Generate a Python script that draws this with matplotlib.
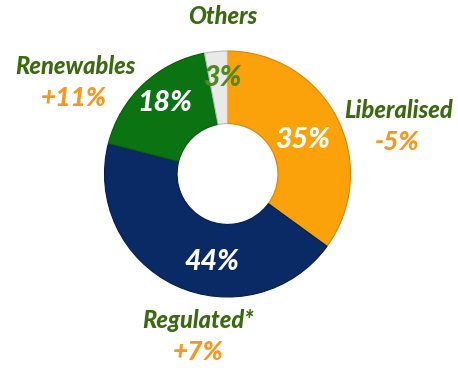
import matplotlib
matplotlib.use("Agg")
import matplotlib.pyplot as plt

segments = ["Liberalised", "Regulated*", "Renewables", "Others"]
shares = [35, 44, 18, 3]
changes = ["-5%", "+7%", "+11%", ""]
colors = ["#FBA20B", "#0A2A66", "#0B7312", "#E9E9E9"]
rim_colors = ["#D9850A", "#061C4A", "#075A0C", "#B8B8B8"]
share_text_colors = ["white", "white", "white", "#4E8A1E"]

W, H = 458, 368
fig = plt.figure(figsize=(W / 100, H / 100), dpi=100)
cx, cy, r = 227.5, 174, 123
ax = fig.add_axes([(cx - r) / W, (H - cy - r) / H, 2 * r / W, 2 * r / H])

wedges, _ = ax.pie(
    shares, colors=colors, startangle=90, counterclock=False, radius=1,
    wedgeprops=dict(width=0.59, linewidth=0.8),
)
for w, ec in zip(wedges, rim_colors):
    w.set_edgecolor(ec)
ax.set_xlim(-1, 1)
ax.set_ylim(-1, 1)
ax.set_aspect("equal")
ax.axis("off")

font = dict(family="Lato", weight=900, style="italic")
green = "#3A6A0E"
orange = "#F7981D"

def px(x, y):
    return x / W, 1 - y / H

# share labels inside the ring
share_pos = [(303, 140), (212, 262), (165, 103), (222, 78)]
for s, (x, y), c in zip(shares, share_pos, share_text_colors):
    fig.text(*px(x, y), f"{s}%", ha="center", va="center", color=c, fontsize=20.5, **font)

# segment names and changes
name_pos = [(399, 111), (198, 321), (75, 66), (223, 17)]
change_pos = [(397, 142), (198, 352), (74, 98), None]
for name, ch, npos, cpos in zip(segments, changes, name_pos, change_pos):
    fig.text(*px(*npos), name, ha="center", va="center", color=green, fontsize=17, **font)
    if cpos is not None:
        fig.text(*px(*cpos), ch, ha="center", va="center", color=orange, fontsize=19, **font)

fig.savefig("out.png", dpi=100)
